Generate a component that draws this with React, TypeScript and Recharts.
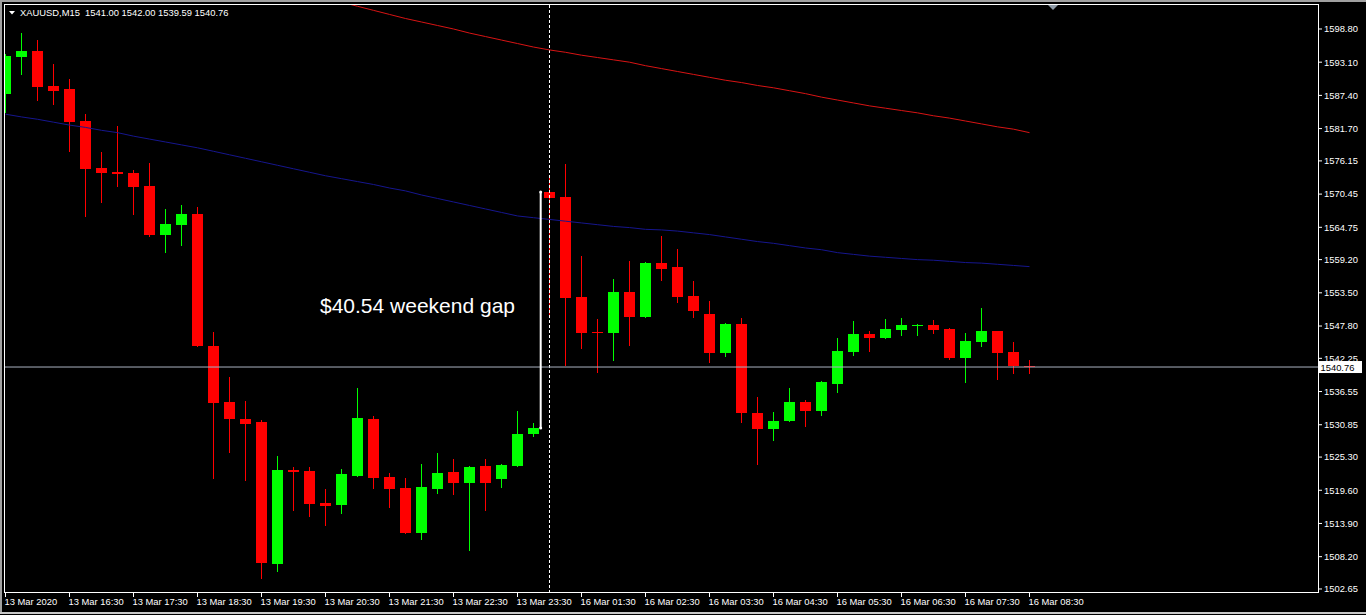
import React from 'react';
import { ComposedChart, Bar, Line, XAxis, YAxis, ReferenceLine, ReferenceDot } from 'recharts';

const FONT = "'Liberation Sans', Arial, sans-serif";

const symbolTitle = 'XAUUSD,M15  1541.00 1542.00 1539.59 1540.76';
const gapLabel = '$40.54 weekend gap';

// M15 bars, 13 Mar 15:30 .. 16 Mar 08:30 (weekend gap after bar 33)
const opens = [
  1587.64, 1594.0, 1595.0, 1589.0, 1588.5, 1583.0, 1574.93, 1574.25, 1574.07, 1571.84,
  1563.43, 1565.15, 1567.0, 1544.4, 1534.76, 1531.84, 1531.3, 1506.9, 1523.08, 1522.9,
  1517.4, 1517.07, 1522.05, 1531.84, 1521.9, 1520.0, 1512.3, 1519.8, 1522.74, 1520.85,
  1523.77, 1521.5, 1523.77, 1529.2, 1570.81, 1569.96, 1552.8, 1546.8, 1546.6, 1553.64,
  1549.35, 1558.6, 1557.94, 1552.96, 1549.9, 1543.17, 1548.15, 1532.87, 1530.1, 1531.5,
  1534.76, 1533.2, 1537.85, 1543.34, 1546.43, 1545.75, 1547.12, 1547.8, 1547.97, 1547.3,
  1542.3, 1545.06, 1546.95, 1543.34, 1541.0,
];
const highs = [
  1594.5, 1598.1, 1596.9, 1592.8, 1590.2, 1584.2, 1577.7, 1582.1, 1574.6, 1575.8,
  1567.9, 1568.6, 1568.2, 1546.8, 1539.05, 1534.93, 1531.7, 1525.5, 1523.6, 1523.6,
  1519.8, 1523.25, 1537.2, 1532.35, 1522.56, 1521.7, 1524.1, 1525.96, 1524.95, 1523.8,
  1524.95, 1524.1, 1533.2, 1531.15, 1573.2, 1575.6, 1559.8, 1549.0, 1555.9, 1558.96,
  1558.8, 1563.26, 1561.03, 1555.5, 1552.1, 1548.3, 1549.2, 1535.6, 1533.04, 1537.16,
  1535.1, 1538.3, 1545.7, 1548.66, 1546.95, 1549.0, 1549.18, 1548.1, 1548.83, 1547.4,
  1546.6, 1550.9, 1547.0, 1545.06, 1542.0,
];
const lows = [
  1584.4, 1590.9, 1586.4, 1585.75, 1577.7, 1566.5, 1568.9, 1571.7, 1566.9, 1563.1,
  1560.3, 1561.5, 1544.2, 1521.5, 1526.0, 1521.2, 1504.4, 1505.6, 1516.0, 1515.0,
  1513.5, 1515.5, 1521.9, 1519.8, 1516.55, 1512.1, 1511.06, 1518.96, 1518.8, 1509.2,
  1516.0, 1520.0, 1523.6, 1528.75, 1549.35, 1540.95, 1543.85, 1539.7, 1541.8, 1544.4,
  1549.2, 1555.5, 1551.75, 1549.2, 1541.45, 1542.5, 1531.15, 1523.96, 1528.06, 1531.3,
  1530.5, 1532.35, 1536.3, 1542.65, 1543.34, 1545.57, 1546.1, 1546.1, 1546.43, 1541.97,
  1538.0, 1544.2, 1538.5, 1539.56, 1539.59,
];
const closes = [
  1594.16, 1595.0, 1588.84, 1588.15, 1582.8, 1574.76, 1574.07, 1573.9, 1571.67, 1563.43,
  1565.3, 1567.0, 1544.4, 1534.6, 1531.84, 1531.0, 1507.1, 1523.1, 1522.74, 1517.24,
  1516.9, 1522.4, 1532.0, 1521.7, 1519.8, 1512.3, 1520.16, 1522.56, 1520.85, 1523.6,
  1520.85, 1523.94, 1529.25, 1530.27, 1569.8, 1552.6, 1546.6, 1546.6, 1553.64, 1549.35,
  1558.6, 1557.6, 1552.8, 1550.4, 1543.2, 1548.15, 1532.87, 1530.1, 1531.5, 1534.76,
  1533.2, 1538.2, 1543.5, 1546.4, 1545.75, 1547.3, 1547.97, 1547.97, 1547.12, 1542.3,
  1545.23, 1546.95, 1543.17, 1540.94, 1540.76,
];

// moving averages
const maBlue = [
  1584.17, 1583.7, 1583.3, 1582.8, 1582.3, 1581.9, 1581.4, 1581.0, 1580.4, 1579.9,
  1579.4, 1578.9, 1578.4, 1577.8, 1577.2, 1576.6, 1576.0, 1575.4, 1574.8, 1574.2,
  1573.6, 1573.1, 1572.6, 1572.1, 1571.5, 1571.0, 1570.3, 1569.7, 1569.1, 1568.5,
  1567.9, 1567.3, 1566.7, 1566.4, 1566.1, 1565.8, 1565.5, 1565.2, 1564.9, 1564.7,
  1564.4, 1564.3, 1564.1, 1563.8, 1563.5, 1563.1, 1562.7, 1562.3, 1562.0, 1561.6,
  1561.2, 1560.9, 1560.4, 1560.1, 1559.8, 1559.6, 1559.4, 1559.2, 1559.1, 1558.9,
  1558.7, 1558.6, 1558.4, 1558.2, 1558.0,
];
const maRed = [
  null, null, null, null, null, null, null, null, null, null,
  null, null, null, null, null, null, null, null, 1605.5, 1604.8,
  1604.1, 1603.4, 1602.7, 1602.0, 1601.3, 1600.6, 1600.0, 1599.4, 1598.8, 1598.1,
  1597.5, 1596.9, 1596.3, 1595.7, 1595.2, 1594.8, 1594.3, 1593.9, 1593.5, 1593.1,
  1592.5, 1592.0, 1591.5, 1591.0, 1590.5, 1590.0, 1589.6, 1589.1, 1588.7, 1588.2,
  1587.7, 1587.1, 1586.6, 1586.1, 1585.6, 1585.2, 1584.8, 1584.4, 1583.9, 1583.5,
  1583.0, 1582.5, 1582.0, 1581.6, 1581.0,
];

// one label per hour (every 4 bars)
const xTickLabels = [
  '13 Mar 2020', '13 Mar 16:30', '13 Mar 17:30', '13 Mar 18:30', '13 Mar 19:30',
  '13 Mar 20:30', '13 Mar 21:30', '13 Mar 22:30', '13 Mar 23:30', '16 Mar 01:30',
  '16 Mar 02:30', '16 Mar 03:30', '16 Mar 04:30', '16 Mar 05:30', '16 Mar 06:30',
  '16 Mar 07:30', '16 Mar 08:30',
];
const yTicks = [
  1598.8, 1593.1, 1587.4, 1581.7, 1576.15, 1570.45, 1564.75, 1559.2, 1553.5,
  1547.8, 1542.25, 1536.55, 1530.85, 1525.3, 1519.6, 1513.9, 1508.2, 1502.65,
];

const fridayLast = 33;
const mondayFirst = 34;

const rows = opens.map((o, i) => ({
  idx: i,
  open: o,
  high: highs[i],
  low: lows[i],
  close: closes[i],
  maBlue: maBlue[i],
  maRed: maRed[i],
}));
const xTicks = xTickLabels.map((_, k) => k * 4);

const Candle = (props: any) => {
  const { x, y, width, height, payload } = props;
  if (!payload) return null;
  const { open, close, high, low } = payload;
  const color = close >= open ? '#00ff00' : '#ff0000';
  const cx = Math.floor(x + width / 2);
  const py = (p: number) => y + ((high - p) / (high - low)) * height;
  const wTop = Math.round(y);
  const wBot = Math.round(y + height);
  const top = Math.round(py(Math.max(open, close)));
  const bot = Math.round(py(Math.min(open, close)));
  return (
    <g>
      <rect x={cx} y={wTop} width={1} height={Math.max(1, wBot - wTop)} fill={color} />
      <rect x={cx - 5} y={top} width={11} height={Math.max(1, bot - top)} fill={color} />
    </g>
  );
};

const XTick = (props: any) => {
  const { x, y, payload } = props;
  const label = xTickLabels[Math.round(payload.value / 4)];
  return (
    <text x={x - 1} y={y + 6} fill="#ffffff" fontSize={9.4} fontFamily={FONT} textAnchor="start">
      {label}
    </text>
  );
};

const BidTag = (props: any) => {
  const vb = props.viewBox;
  if (!vb) return null;
  const left = vb.x + vb.width + 1;
  return (
    <g>
      <rect x={left} y={vb.y - 6} width={43} height={12} fill="#ffffff" />
      <text x={left + 1.5} y={vb.y + 3.5} fill="#000000" fontSize={9.4} fontFamily={FONT}>
        {closes[closes.length - 1].toFixed(2)}
      </text>
    </g>
  );
};

const App: React.FC = () => {
  const gapX = fridayLast + 0.45;
  return (
    <div style={{ position: 'absolute', left: 0, top: 0, width: 1366, height: 615, background: '#000', overflow: 'hidden' }}>
      <ComposedChart
        width={1366}
        height={615}
        data={rows}
        margin={{ top: 4, right: 0, bottom: 0, left: 4 }}
      >
        <XAxis
          type="number"
          dataKey="idx"
          domain={[-0.09375, 82.03125]}
          allowDataOverflow
          ticks={xTicks}
          interval={0}
          tick={<XTick />}
          tickSize={4}
          tickMargin={2}
          tickLine={{ stroke: '#ffffff' }}
          axisLine={false}
          height={22}
        />
        <YAxis
          orientation="right"
          width={48}
          domain={[1501.96, 1603.09]}
          allowDataOverflow
          ticks={yTicks}
          interval={0}
          tickFormatter={(v: number) => v.toFixed(2)}
          tickSize={4}
          tickMargin={2}
          tick={{ fill: '#ffffff', fontSize: 9.4, fontFamily: FONT }}
          tickLine={{ stroke: '#ffffff' }}
          axisLine={false}
        />
        <ReferenceLine x={mondayFirst} stroke="#ffffff" strokeDasharray="3 2" />
        <Bar
          dataKey={(r: any) => [r.low, r.high]}
          barSize={11}
          shape={(p: any) => <Candle {...p} />}
          isAnimationActive={false}
        />
        <Line dataKey="maBlue" stroke="#16168e" strokeWidth={1} dot={false} isAnimationActive={false} />
        <Line dataKey="maRed" stroke="#d81414" strokeWidth={1} dot={false} isAnimationActive={false} />
        <ReferenceLine y={closes[closes.length - 1]} stroke="#aab2c0" label={<BidTag />} />
        <ReferenceLine
          segment={[
            { x: gapX, y: closes[fridayLast] },
            { x: gapX, y: opens[mondayFirst] },
          ]}
          stroke="#ffffff"
          strokeWidth={2}
        />
        <ReferenceDot x={gapX} y={closes[fridayLast]} r={1.5} fill="#ffffff" stroke="none" />
        <ReferenceDot x={gapX} y={opens[mondayFirst]} r={1.5} fill="#ffffff" stroke="none" />
      </ComposedChart>

      {/* plot frame */}
      <div style={{ position: 'absolute', left: 4, top: 4, width: 1315, height: 589, border: '1px solid #ffffff', boxSizing: 'border-box', pointerEvents: 'none' }} />
      {/* window frame */}
      <div style={{ position: 'absolute', left: 0, top: 0, width: 1366, height: 2, background: '#a0a0a0' }} />
      <div style={{ position: 'absolute', left: 0, top: 0, width: 2, height: 613, background: '#a0a0a0' }} />
      <div style={{ position: 'absolute', left: 0, top: 612, width: 1366, height: 2, background: '#c8c8c8' }} />

      <svg style={{ position: 'absolute', left: 0, top: 0 }} width={1366} height={20}>
        <polygon points="9,11 15,11 12,14.5" fill="#ffffff" />
        <polygon points="1048,5 1058,5 1053,10" fill="#8e9aa6" />
      </svg>
      <div style={{ position: 'absolute', left: 20, top: 8, color: '#ffffff', fontFamily: FONT, fontSize: 9.4, lineHeight: '9.4px', whiteSpace: 'pre' }}>
        {symbolTitle}
      </div>
      <div style={{ position: 'absolute', left: 320, top: 295, color: '#ffffff', fontFamily: FONT, fontSize: 21, lineHeight: '21px', whiteSpace: 'pre' }}>
        {gapLabel}
      </div>
    </div>
  );
};

export default App;
